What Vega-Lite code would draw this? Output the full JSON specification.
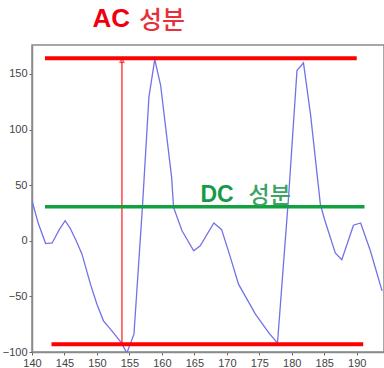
{
  "$schema": "https://vega.github.io/schema/vega-lite/v6.json",
  "width": 352,
  "height": 307,
  "padding": {"left": 32, "top": 45, "right": 0, "bottom": 16},
  "autosize": {"type": "none"},
  "background": "white",
  "config": {
    "view": {"stroke": "#8a8a8a", "strokeWidth": 1.5},
    "axis": {
      "labelFont": "Liberation Sans",
      "labelFontSize": 11,
      "labelColor": "#444444",
      "domainColor": "#8a8a8a",
      "domainWidth": 1.5,
      "tickColor": "#666666",
      "tickSize": 3,
      "grid": false,
      "title": null,
      "labelFlush": false,
      "labelOverlap": false,
      "labelPadding": 2
    }
  },
  "datasets": {
    "signal": [
      {"x": 140.0, "y": 36},
      {"x": 141.0, "y": 15},
      {"x": 142.1, "y": -2.5},
      {"x": 143.1, "y": -2},
      {"x": 144.2, "y": 10},
      {"x": 145.1, "y": 18},
      {"x": 145.9, "y": 11},
      {"x": 146.8, "y": 0},
      {"x": 147.7, "y": -12},
      {"x": 149.0, "y": -39},
      {"x": 150.0, "y": -57},
      {"x": 151.0, "y": -72},
      {"x": 152.3, "y": -81},
      {"x": 153.8, "y": -92},
      {"x": 154.6, "y": -101},
      {"x": 155.7, "y": -84},
      {"x": 157.0, "y": 30},
      {"x": 158.0, "y": 129},
      {"x": 158.9, "y": 163},
      {"x": 159.8, "y": 140},
      {"x": 161.5, "y": 57},
      {"x": 161.8, "y": 30},
      {"x": 163.1, "y": 9},
      {"x": 164.9, "y": -9},
      {"x": 165.9, "y": -4.5},
      {"x": 168.0, "y": 16},
      {"x": 169.2, "y": 10},
      {"x": 170.5, "y": -14},
      {"x": 171.8, "y": -39},
      {"x": 174.4, "y": -66},
      {"x": 176.5, "y": -83},
      {"x": 177.8, "y": -92},
      {"x": 179.5, "y": 39},
      {"x": 180.8, "y": 153},
      {"x": 181.8, "y": 160},
      {"x": 182.9, "y": 113},
      {"x": 184.4, "y": 33},
      {"x": 185.0, "y": 20},
      {"x": 186.7, "y": -11},
      {"x": 187.7, "y": -17},
      {"x": 189.5, "y": 14},
      {"x": 190.6, "y": 16},
      {"x": 192.1, "y": -9},
      {"x": 193.9, "y": -45}
    ],
    "hlines": [
      {"name": "AC top", "x": 142, "x2": 190, "y": 164},
      {"name": "AC bottom", "x": 143, "x2": 191, "y": -93}
    ],
    "dc": [
      {"name": "DC", "x": 142, "x2": 191.2, "y": 30.5}
    ],
    "arrow": [
      {"x": 153.85, "y": -93, "y2": 162}
    ],
    "arrowhead": [
      {"x": 153.85, "y": 162}
    ],
    "labels": [
      {"x": 152.2, "y": 199, "text": "AC", "kind": "acBold"},
      {"x": 160.0, "y": 197.5, "text": "성분", "kind": "acKo"},
      {"x": 168.5, "y": 41.5, "text": "DC", "kind": "dcBold"},
      {"x": 176.6, "y": 40.5, "text": "성분", "kind": "dcKo"}
    ]
  },
  "encoding": {
    "x": {
      "field": "x", "type": "quantitative",
      "scale": {"domain": [140, 194.2], "nice": false, "zero": false},
      "axis": {"values": [140, 145, 150, 155, 160, 165, 170, 175, 180, 185, 190], "labelOverlap": false, "labelFlush": false}
    },
    "y": {
      "field": "y", "type": "quantitative",
      "scale": {"domain": [-100, 176], "nice": false, "zero": false},
      "axis": {"values": [-100, -50, 0, 50, 100, 150], "labelOverlap": false}
    }
  },
  "layer": [
    {
      "data": {"name": "signal"},
      "mark": {"type": "line", "color": "#7272e8", "strokeWidth": 1.3, "clip": true}
    },
    {
      "data": {"name": "arrow"},
      "mark": {"type": "rule", "color": "#ff0000", "strokeWidth": 1.1},
      "encoding": {"y2": {"field": "y2"}}
    },
    {
      "data": {"name": "arrowhead"},
      "mark": {"type": "point", "shape": "triangle-up", "color": "#ff0000", "filled": false, "size": 22, "strokeWidth": 1}
    },
    {
      "data": {"name": "hlines"},
      "mark": {"type": "rule", "color": "#ff0000", "strokeWidth": 4},
      "encoding": {"x2": {"field": "x2"}}
    },
    {
      "data": {"name": "dc"},
      "mark": {"type": "rule", "color": "#12a040", "strokeWidth": 3.5},
      "encoding": {"x2": {"field": "x2"}}
    },
    {
      "data": {"name": "labels"},
      "transform": [{"filter": "datum.kind === 'acBold'"}],
      "mark": {"type": "text", "baseline": "middle", "align": "center", "font": "Liberation Sans", "fontWeight": "bold", "fontSize": 26, "color": "#ee0010"},
      "encoding": {"text": {"field": "text"}}
    },
    {
      "data": {"name": "labels"},
      "transform": [{"filter": "datum.kind === 'acKo'"}],
      "mark": {"type": "text", "baseline": "middle", "align": "center", "font": "Noto Sans CJK KR", "fontWeight": 500, "fontSize": 25, "color": "#e8303a"},
      "encoding": {"text": {"field": "text"}}
    },
    {
      "data": {"name": "labels"},
      "transform": [{"filter": "datum.kind === 'dcBold'"}],
      "mark": {"type": "text", "baseline": "middle", "align": "center", "font": "Liberation Sans", "fontWeight": "bold", "fontSize": 23, "color": "#159a48"},
      "encoding": {"text": {"field": "text"}}
    },
    {
      "data": {"name": "labels"},
      "transform": [{"filter": "datum.kind === 'dcKo'"}],
      "mark": {"type": "text", "baseline": "middle", "align": "center", "font": "Noto Sans CJK KR", "fontWeight": 500, "fontSize": 23, "color": "#3aa462"},
      "encoding": {"text": {"field": "text"}}
    }
  ]
}
